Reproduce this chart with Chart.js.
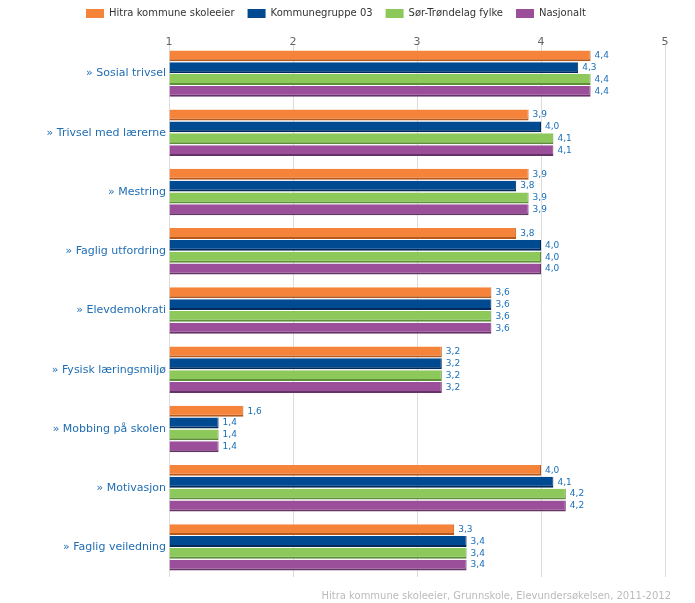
<!DOCTYPE html>
<html>
<head>
<meta charset="utf-8">
<script src="https://cdn.jsdelivr.net/npm/chart.js@4/dist/chart.umd.min.js"></script>
<style>
  html, body { margin: 0; padding: 0; background: #fff; }
  #wrap { width: 695px; height: 603px; }
</style>
</head>
<body>
<div id="wrap"><canvas id="myChart" width="695" height="603"></canvas></div>
<script>
// kategorier (indikatorer)
const categories = ['» Sosial trivsel', '» Trivsel med lærerne', '» Mestring', '» Faglig utfordring',
  '» Elevdemokrati', '» Fysisk læringsmiljø', '» Mobbing på skolen', '» Motivasjon', '» Faglig veiledning'];

const hitra = [4.4, 3.9, 3.9, 3.8, 3.6, 3.2, 1.6, 4.0, 3.3];
const kommunegruppe = [4.3, 4.0, 3.8, 4.0, 3.6, 3.2, 1.4, 4.1, 3.4];
const sorTrondelag = [4.4, 4.1, 3.9, 4.0, 3.6, 3.2, 1.4, 4.2, 3.4];
const nasjonalt = [4.4, 4.1, 3.9, 4.0, 3.6, 3.2, 1.4, 4.2, 3.4];

const xTicks = [1, 2, 3, 4, 5];
const footerText = 'Hitra kommune skoleeier, Grunnskole, Elevundersøkelsen, 2011-2012';

const FONT = 'DejaVu Sans';

function serie(label, data, fill, dark) {
  return {
    label: label,
    data: data,
    base: 1,
    backgroundColor: fill,
    borderColor: dark,
    borderWidth: { top: 0, right: 1, bottom: 2, left: 0 },
    borderSkipped: false,
    categoryPercentage: 0.8,
    barPercentage: 0.92
  };
}

// verdier ved enden av stolpene
const valueLabels = {
  id: 'valueLabels',
  afterDatasetsDraw(chart) {
    const ctx = chart.ctx;
    ctx.save();
    ctx.font = '9px ' + FONT;
    ctx.fillStyle = '#1a6fb8';
    ctx.textBaseline = 'middle';
    ctx.textAlign = 'left';
    chart.data.datasets.forEach((ds, i) => {
      chart.getDatasetMeta(i).data.forEach((bar, j) => {
        ctx.fillText(ds.data[j].toFixed(1).replace('.', ','), bar.x + 4, bar.y);
      });
    });
    ctx.restore();
  }
};

// tall på x-aksen øverst
const topTicks = {
  id: 'topTicks',
  afterDraw(chart) {
    const ctx = chart.ctx;
    const scale = chart.scales.x;
    ctx.save();
    ctx.font = '11px ' + FONT;
    ctx.fillStyle = '#666';
    ctx.textAlign = 'center';
    ctx.textBaseline = 'middle';
    xTicks.forEach(v => {
      ctx.fillText(String(v), scale.getPixelForValue(v), 42);
    });
    ctx.restore();
  }
};

// egen forklaring øverst, midtstilt rundt x=336
const topLegend = {
  id: 'topLegend',
  afterDraw(chart) {
    const ctx = chart.ctx;
    ctx.save();
    ctx.font = '10px ' + FONT;
    ctx.textBaseline = 'middle';
    const items = chart.data.datasets.map(ds => ({ ds: ds, w: ctx.measureText(ds.label).width }));
    let total = 0;
    items.forEach(it => { total += 18 + 5 + it.w; });
    total += 13 * (items.length - 1);
    let x = Math.round(336 - total / 2);
    const y = 13;
    items.forEach(it => {
      ctx.fillStyle = it.ds.backgroundColor;
      ctx.fillRect(x, y - 4, 18, 9);
      ctx.fillStyle = '#333';
      ctx.fillText(it.ds.label, x + 23, y);
      x += 18 + 5 + it.w + 13;
    });
    ctx.restore();
  }
};

const footer = {
  id: 'footer',
  afterDraw(chart) {
    const ctx = chart.ctx;
    ctx.save();
    ctx.font = '10px ' + FONT;
    ctx.fillStyle = '#bbbbbb';
    ctx.textAlign = 'right';
    ctx.textBaseline = 'middle';
    ctx.fillText(footerText, 671, 596);
    ctx.restore();
  }
};

const config = {
  type: 'bar',
  data: {
    labels: categories,
    datasets: [
      serie('Hitra kommune skoleeier', hitra, '#f5843a', '#b55a1f'),
      serie('Kommunegruppe 03', kommunegruppe, '#004a91', '#002a5a'),
      serie('Sør-Trøndelag fylke', sorTrondelag, '#8dc85a', '#5e8e38'),
      serie('Nasjonalt', nasjonalt, '#9b4f9b', '#663366')
    ]
  },
  options: {
    indexAxis: 'y',
    responsive: false,
    animation: false,
    layout: { padding: { left: 0, right: 30, top: 44, bottom: 26 } },
    plugins: {
      legend: { display: false },
      tooltip: { enabled: false }
    },
    scales: {
      x: {
        position: 'top',
        min: 1,
        max: 5,
        afterBuildTicks(axis) { axis.ticks = xTicks.map(v => ({ value: v })); },
        grid: { color: '#dcdcdc', drawTicks: false },
        border: { display: false },
        ticks: { display: false }
      },
      y: {
        grid: { display: false, drawTicks: false },
        border: { display: false },
        afterFit(axis) { axis.width = 169; },
        ticks: { color: '#1f6db3', padding: 3, font: { family: FONT, size: 11 } }
      }
    }
  },
  plugins: [valueLabels, topTicks, topLegend, footer]
};

const myChart = new Chart(document.getElementById('myChart'), config);
</script>
</body>
</html>
